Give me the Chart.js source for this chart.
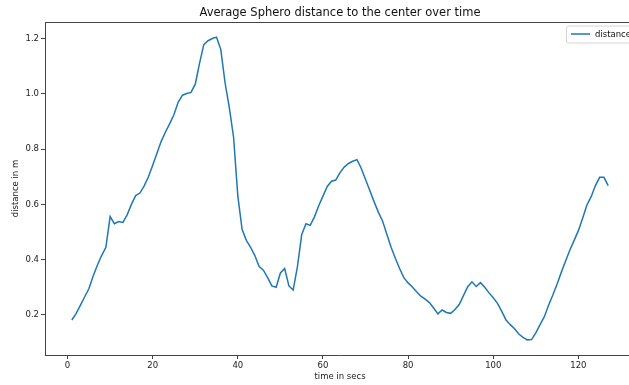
<!DOCTYPE html>
<html>
<head>
<meta charset="utf-8">
<script src="https://cdn.jsdelivr.net/npm/chart.js@4/dist/chart.umd.min.js"></script>
<style>
  html, body { margin: 0; padding: 0; background: #fff; overflow: hidden; }
  canvas { display: block; }
</style>
</head>
<body>
<canvas id="myChart" width="640" height="385"></canvas>
<script>
// time in secs, one reading per second
const tiempos = []
for (let t = 1; t <= 127; t++) tiempos.push(t)

// average distance to the center (m)
const distancia = [
  0.182, 0.205, 0.235, 0.265, 0.295, 0.340, 0.380, 0.415, 0.445, 0.556,
  0.530, 0.538, 0.535, 0.562, 0.600, 0.632, 0.641, 0.667, 0.700, 0.742,
  0.785, 0.828, 0.862, 0.892, 0.925, 0.970, 0.995, 1.001, 1.005, 1.035,
  1.110, 1.178, 1.192, 1.200, 1.205, 1.160, 1.040, 0.950, 0.843, 0.630,
  0.510, 0.470, 0.445, 0.415, 0.375, 0.362, 0.335, 0.305, 0.300, 0.352,
  0.368, 0.305, 0.290, 0.375, 0.490, 0.530, 0.524, 0.555, 0.595, 0.630,
  0.665, 0.684, 0.688, 0.715, 0.735, 0.748, 0.756, 0.762, 0.730, 0.690,
  0.650, 0.610, 0.572, 0.540, 0.492, 0.445, 0.405, 0.368, 0.335, 0.316,
  0.301, 0.284, 0.268, 0.257, 0.245, 0.225, 0.204, 0.218, 0.209, 0.206,
  0.220, 0.238, 0.270, 0.302, 0.320, 0.303, 0.317, 0.300, 0.280, 0.262,
  0.242, 0.213, 0.182, 0.165, 0.150, 0.131, 0.119, 0.110, 0.111, 0.135,
  0.165, 0.194, 0.235, 0.272, 0.312, 0.355, 0.395, 0.435, 0.470, 0.505,
  0.550, 0.598, 0.628, 0.668, 0.698, 0.698, 0.668
]

const ticksX = [0, 20, 40, 60, 80, 100, 120]
const ticksY = [0.2, 0.4, 0.6, 0.8, 1.0, 1.2]

const titulo = "Average Sphero distance to the center over time"
const serie = "distance"
const azul = "#1f77b4"
const fuente = "'DejaVu Sans', sans-serif"

// matplotlib style 5% margins
function margen(arr){
  let mn = Math.min(...arr), mx = Math.max(...arr)
  let m = (mx - mn) * 0.05
  return [mn - m, mx + m]
}
const rangoX = margen(tiempos)
const rangoY = margen(distancia)

const puntos = tiempos.map((t, i) => ({x: t, y: distancia[i]}))

// title, frame and legend drawn like matplotlib
const extras = {
  id: 'extras',
  afterDraw(chart){
    const ctx = chart.ctx
    const a = chart.chartArea
    ctx.save()
    ctx.strokeStyle = '#444'
    ctx.lineWidth = 1
    ctx.beginPath()
    ctx.moveTo(a.left, a.top + 0.5)
    ctx.lineTo(a.right, a.top + 0.5)
    ctx.moveTo(a.right - 0.5, a.top)
    ctx.lineTo(a.right - 0.5, a.bottom)
    ctx.stroke()

    ctx.fillStyle = '#111'
    ctx.font = "11.5px " + fuente
    ctx.textAlign = 'center'
    ctx.textBaseline = 'middle'
    ctx.fillText(titulo, (a.left + a.right) / 2, 13)

    // legend box
    let bx = a.right - 69, by = a.top + 3.5, bw = 65, bh = 17
    ctx.fillStyle = 'rgba(255,255,255,0.8)'
    ctx.strokeStyle = '#d6d6d6'
    ctx.beginPath()
    ctx.roundRect(bx + 0.5, by + 0.5, bw, bh, 2)
    ctx.fill()
    ctx.stroke()
    ctx.strokeStyle = azul
    ctx.lineWidth = 1.5
    ctx.beginPath()
    ctx.moveTo(bx + 5, by + 8.5)
    ctx.lineTo(bx + 24, by + 8.5)
    ctx.stroke()
    ctx.fillStyle = '#111'
    ctx.font = "8.5px " + fuente
    ctx.textAlign = 'left'
    ctx.fillText(serie, bx + 29, by + 9)
    ctx.restore()
  }
}

const config = {
  type: 'line',
  data: {
    datasets: [{
      label: serie,
      data: puntos,
      borderColor: azul,
      backgroundColor: azul,
      borderWidth: 1.5,
      pointRadius: 0,
      tension: 0,
      fill: false
    }]
  },
  options: {
    responsive: false,
    animation: false,
    devicePixelRatio: 1,
    layout: { padding: { top: 22, right: 5, left: 0, bottom: 0 } },
    plugins: {
      legend: { display: false },
      title: { display: false },
      tooltip: { enabled: false }
    },
    scales: {
      x: {
        type: 'linear',
        min: rangoX[0],
        max: rangoX[1],
        afterBuildTicks: s => { s.ticks = ticksX.map(v => ({value: v})) },
        afterFit: s => { s.height = 30 },
        ticks: {
          color: '#222',
          font: { family: fuente, size: 8.5 },
          padding: 2,
          maxRotation: 0,
          callback: v => String(v)
        },
        grid: { drawOnChartArea: false, color: '#444', tickLength: 4 },
        border: { color: '#444', width: 1 },
        title: {
          display: true,
          text: 'time in secs',
          color: '#222',
          font: { family: fuente, size: 8.5 },
          padding: { top: 0, bottom: 3 }
        }
      },
      y: {
        type: 'linear',
        min: rangoY[0],
        max: rangoY[1],
        afterBuildTicks: s => { s.ticks = ticksY.map(v => ({value: v})) },
        afterFit: s => { s.width = 45 },
        ticks: {
          color: '#222',
          font: { family: fuente, size: 8.5 },
          padding: 2,
          callback: v => Number(v).toFixed(1)
        },
        grid: { drawOnChartArea: false, color: '#444', tickLength: 4 },
        border: { color: '#444', width: 1 },
        title: {
          display: true,
          text: 'distance in m',
          color: '#222',
          font: { family: fuente, size: 8.5 },
          padding: { top: 11, bottom: 0 }
        }
      }
    }
  },
  plugins: [extras]
}

const myChart = new Chart(document.getElementById('myChart'), config)
</script>
</body>
</html>
